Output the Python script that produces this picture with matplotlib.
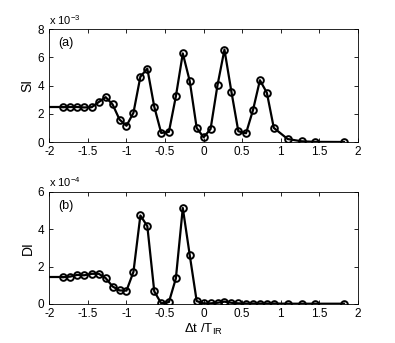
import matplotlib
matplotlib.use("Agg")
import matplotlib.pyplot as plt

# delay values (units of T_IR)
dt = [-1.82, -1.73, -1.64, -1.55, -1.45, -1.36, -1.27, -1.18, -1.09, -1.0,
      -0.91, -0.82, -0.73, -0.64, -0.55, -0.45, -0.36, -0.27, -0.18, -0.09,
      0.0, 0.09, 0.18, 0.27, 0.36, 0.45, 0.55, 0.64, 0.73, 0.82,
      0.91, 1.09, 1.27, 1.45, 1.82]

# single ionization (x 1e-3)
si = [2.47, 2.48, 2.48, 2.45, 2.47, 2.83, 3.18, 2.66, 1.59, 1.15,
      2.07, 4.63, 5.2, 2.5, 0.64, 0.72, 3.23, 6.28, 4.32, 1.0,
      0.33, 0.92, 4.03, 6.55, 3.57, 0.76, 0.62, 2.26, 4.38, 3.49,
      1.0, 0.21, 0.05, 0.01, 0.0]

# double ionization (x 1e-4)
di = [1.43, 1.46, 1.55, 1.53, 1.61, 1.61, 1.38, 0.93, 0.72, 0.71,
      1.71, 4.73, 4.16, 0.67, 0.03, 0.1, 1.36, 5.13, 2.61, 0.15,
      0.03, 0.03, 0.06, 0.12, 0.06, 0.03, 0.02, 0.02, 0.02, 0.02,
      0.02, 0.01, 0.01, 0.01, 0.01]

xticks = [-2, -1.5, -1, -0.5, 0, 0.5, 1, 1.5, 2]
xticklabels = ['-2', '-1.5', '-1', '-0.5', '0', '0.5', '1', '1.5', '2']

plt.rcParams['font.family'] = ['Liberation Sans', 'DejaVu Sans']
plt.rcParams['mathtext.fontset'] = 'custom'
plt.rcParams['mathtext.rm'] = 'Liberation Sans'
plt.rcParams['mathtext.it'] = 'Liberation Sans'

fig = plt.figure(figsize=(3.95, 3.43), dpi=100)
ax1 = fig.add_axes([0.125, 0.586, 0.781, 0.329])
ax2 = fig.add_axes([0.125, 0.114, 0.781, 0.327])


def panel(ax, vals, ymax, yticks, ylab, tag, expo):
    # line runs out to the left edge at the first value
    ax.plot([-2.0, dt[0]], [vals[0], vals[0]], color='black', lw=1.6)
    ax.plot(dt, vals, color='black', lw=1.6, marker='o', ms=4.8,
            mfc='none', mec='black', mew=1.4)
    ax.set_xlim(-2, 2)
    ax.set_ylim(0, ymax)
    ax.set_xticks(xticks)
    ax.set_xticklabels(xticklabels)
    ax.set_yticks(yticks)
    ax.tick_params(direction='in', top=True, right=True, length=3,
                   width=0.6, labelsize=8.5)
    ax.tick_params(axis='x', pad=3)
    ax.tick_params(axis='y', pad=4)
    for s in ax.spines.values():
        s.set_linewidth(0.6)
    ax.set_ylabel(ylab, fontsize=10, labelpad=2)
    ax.text(0.03, 0.875, tag, transform=ax.transAxes, fontsize=9,
            va='center', ha='left')
    ax.text(0.0, 1.02, 'x 10$^{%s}$' % expo, transform=ax.transAxes,
            fontsize=8, va='bottom', ha='left')


panel(ax1, si, 8, [0, 2, 4, 6, 8], 'SI', '(a)', '-3')
panel(ax2, di, 6, [0, 2, 4, 6], 'DI', '(b)', '-4')
ax2.set_xlabel('$\\Delta$t /T$_{\\rm IR}$', fontsize=9.5, labelpad=1)

fig.savefig('out.png', dpi=100)
